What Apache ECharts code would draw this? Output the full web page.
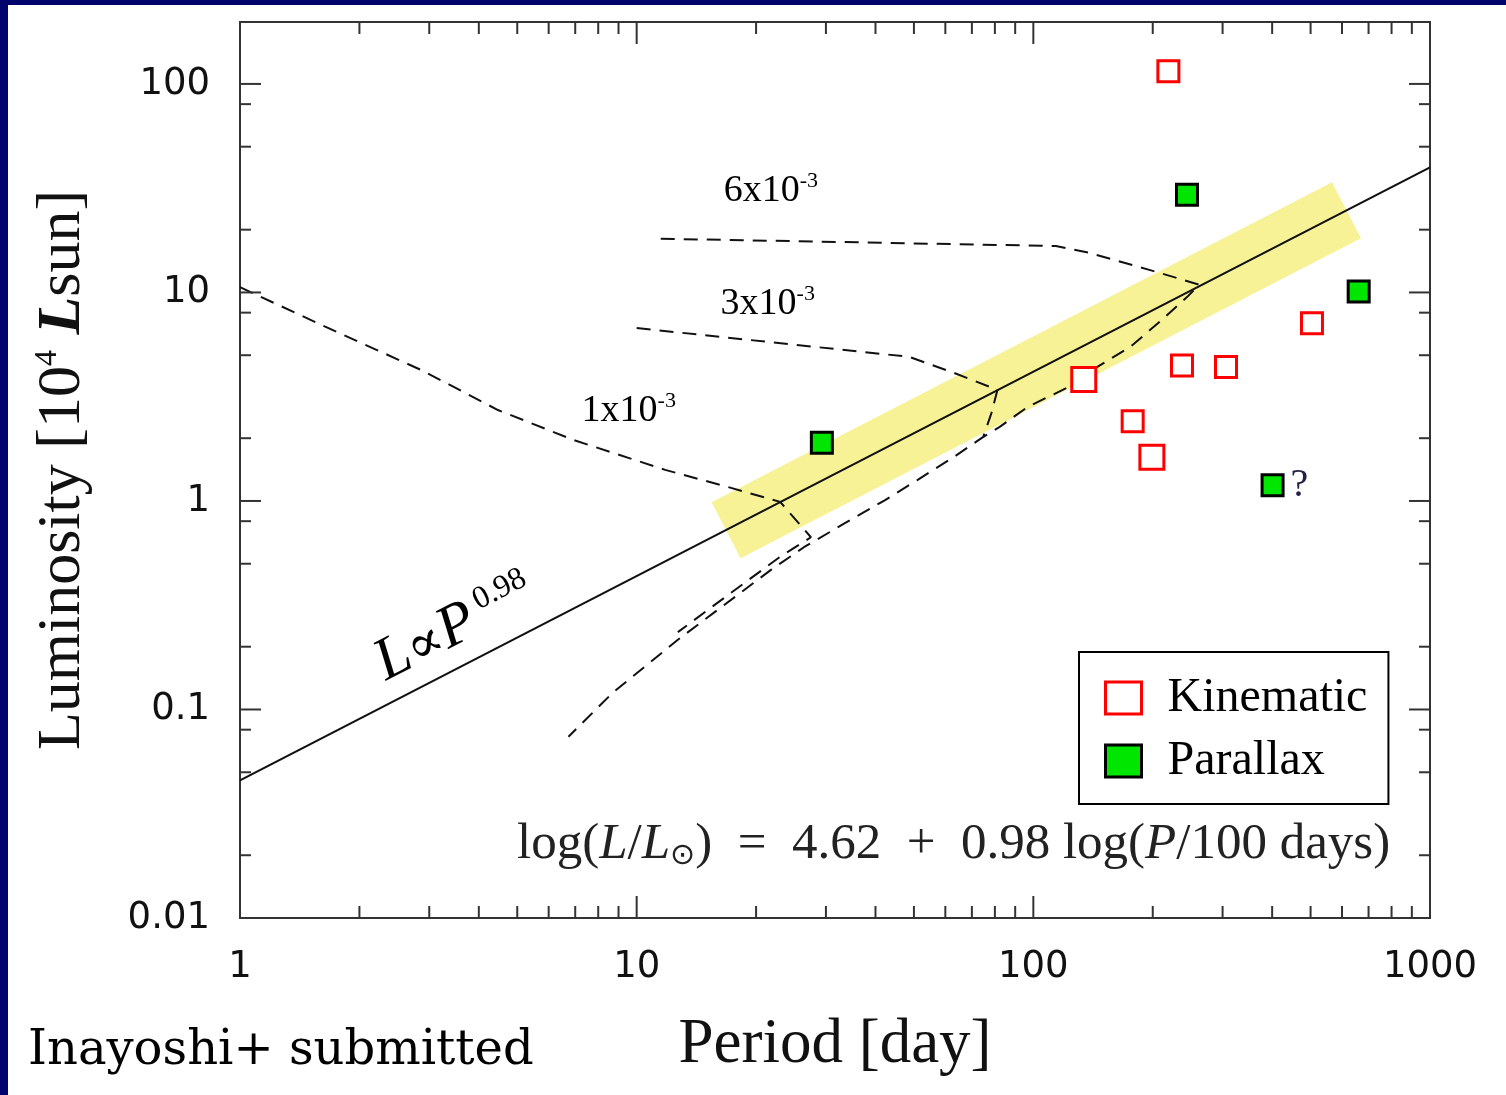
<!DOCTYPE html>
<html>
<head>
<meta charset="utf-8">
<script src="https://cdn.jsdelivr.net/npm/echarts@6/dist/echarts.min.js"></script>
<style>
html,body{margin:0;padding:0;background:#ffffff;}
#c{width:1506px;height:1095px;}
</style>
</head>
<body>
<div id="c"></div>
<script>
// ---------------- data (period in days, luminosity in 10^4 Lsun) ----------------
const periodTicks = ['1', '10', '100', '1000'];
const lumTicks = ['0.01', '0.1', '1', '10', '100'];

const kinematicPeriod = [219, 134, 237, 306, 504, 178, 199];
const kinematicLum    = [115, 3.82, 4.46, 4.39, 7.12, 2.41, 1.62];

const parallaxPeriod = [29.3, 244, 661, 401];
const parallaxLum    = [1.90, 29.4, 10.1, 1.19];
const parallaxNote   = ['', '', '', '?'];

// fitted relation L ∝ P^0.98 (drawn across the full axis)
const fitPeriod = [1, 1000];
const fitLum    = [0.0457, 39.8];

// shaded band around the fit
const bandPeriod = [16.8, 616];
const bandLum    = [0.724, 24.8];

// evolutionary tracks (accretion rates 1e-3, 3e-3, 6e-3)
const track1Period = [1.0, 1.64, 2.86, 4.47, 6.94, 11.8, 16.9, 23.0, 27.5, 23.0, 17.2, 12.7];
const track1Lum    = [10.6, 6.85, 4.25, 2.73, 1.96, 1.41, 1.17, 0.99, 0.67, 0.54, 0.36, 0.235];

const track3Period = [10.0, 48.7, 63.2, 81.2, 78.4, 74.8, 63.2, 51.0, 42.3, 33.4, 26.4, 21.8, 12.7, 8.69, 6.73];
const track3Lum    = [6.75, 4.91, 4.11, 3.41, 2.64, 2.03, 1.63, 1.26, 1.01, 0.78, 0.60, 0.467, 0.216, 0.120, 0.074];

const track6Period = [11.5, 114, 138, 197, 262, 244, 211, 176, 145, 122, 96.9, 82.1, 74.8];
const track6Lum    = [18.1, 16.7, 15.5, 12.8, 10.9, 9.5, 7.4, 5.5, 4.4, 3.5, 2.83, 2.26, 2.03];

// text annotations anchored in data space
const annotationText   = ['{n|6x10}{s|-3}', '{n|3x10}{s|-3}', '{n|1x10}{s|-3}', '{i|L}{n2|∝}{i|P}{s2| 0.98}'];
const annotationPeriod = [21.8, 21.4, 9.55, 3.48];
const annotationLum    = [31.0, 8.9, 2.73, 0.246];

// ---------------- helpers / styles ----------------
const lg = Math.log10;
const toXY = (P, L) => P.map((p, i) => [lg(p), lg(L[i])]);
const largeKinematic = [1, 6];
const AX = '#333333';

// tick marks on all four sides: kind 0 = x minor, 1 = y minor, 2 = x major, 3 = y major
const tickData = [];
for (let d = 0; d < 3; d++) for (let m = 2; m <= 9; m++) tickData.push([0, lg(m * Math.pow(10, d))]);
for (let d = -2; d <= 1; d++) for (const m of [2, 5, 8]) tickData.push([1, lg(m * Math.pow(10, d))]);
for (let d = 0; d <= 3; d++) tickData.push([2, d]);
for (let d = -2; d <= 2; d++) tickData.push([3, d]);

const trackStyle = {color: '#111', width: 2, type: [14, 9]};

function lineSeries(name, data, lineStyle, z) {
  return {name, type: 'line', data, symbol: 'none', showSymbol: false, silent: true,
          lineStyle, z, xAxisIndex: 0, yAxisIndex: 0};
}
const hiddenLine = {show: false, onZero: false};

const chart = echarts.init(document.getElementById('c'), null, {renderer: 'canvas'});

const option = {
  animation: false,
  backgroundColor: '#ffffff',
  grid: {left: 240, top: 22, width: 1190, height: 896, show: true,
         borderColor: AX, borderWidth: 2, backgroundColor: 'rgba(0,0,0,0)'},
  xAxis: {type: 'value', min: 0, max: 3, interval: 1, position: 'bottom',
     axisLine: hiddenLine, splitLine: {show: false}, axisTick: {show: false},
     axisLabel: {margin: 31, fontFamily: 'DejaVu Sans', fontSize: 37, color: '#111',
                 formatter: v => periodTicks[Math.round(v)]},
     name: 'Period [day]', nameLocation: 'middle', nameGap: 96,
     nameTextStyle: {fontFamily: 'Liberation Serif', fontSize: 63, color: '#111'}},
  yAxis: {type: 'value', min: -2, max: 2.297, interval: 1, position: 'left',
     axisLine: hiddenLine, splitLine: {show: false}, axisTick: {show: false},
     axisLabel: {margin: 30, fontFamily: 'DejaVu Sans', fontSize: 37, color: '#111',
                 showMaxLabel: false,
                 formatter: v => Math.abs(v - Math.round(v)) < 1e-6 ? lumTicks[Math.round(v) + 2] : ''},
     name: 'Luminosity [10{sup|4} {bi|L}sun]', nameLocation: 'middle', nameGap: 146, nameRotate: 90,
     nameTextStyle: {fontFamily: 'Liberation Serif', fontSize: 62, color: '#111',
       rich: {
         sup: {fontFamily: 'Liberation Serif', fontSize: 32, lineHeight: 32, verticalAlign: 'top', color: '#111'},
         bi: {fontFamily: 'Liberation Serif', fontSize: 62, fontWeight: 'bold', fontStyle: 'italic', color: '#111'}
       }}},
  legend: {
    orient: 'vertical', left: 1079, top: 652,
    padding: [22, 21, 19, 25], itemGap: 15, itemWidth: 36, itemHeight: 32,
    backgroundColor: '#ffffff', borderColor: '#000', borderWidth: 2, borderRadius: 0,
    textStyle: {fontFamily: 'Liberation Serif', fontSize: 48, lineHeight: 47, color: '#000',
                padding: [0, 0, 0, 21]},
    data: [
      {name: 'Kinematic', icon: 'rect', itemStyle: {color: '#ffffff', borderColor: '#ff0000', borderWidth: 3}},
      {name: 'Parallax', icon: 'rect', itemStyle: {color: '#00e600', borderColor: '#000000', borderWidth: 3}}
    ]
  },
  graphic: [
    {type: 'rect', left: 0, top: 0, z: 100, shape: {width: 1506, height: 5}, style: {fill: '#03036e'}},
    {type: 'rect', left: 0, top: 0, z: 100, shape: {width: 8, height: 1095}, style: {fill: '#03036e'}},
    {type: 'text', x: 28, y: 1052, z: 100,
     style: {text: 'Inayoshi+ submitted', fontFamily: 'DejaVu Serif', fontSize: 48, fill: '#000',
             align: 'left', verticalAlign: 'middle'}},
    {type: 'text', x: 517, y: 845, z: 100,
     style: {text: 'log({i|L}/{i|L}{sub|⊙})  =  4.62  +  0.98 log({i|P}/100 days)',
             fontFamily: 'Liberation Serif', fontSize: 51, fill: '#222',
             align: 'left', verticalAlign: 'middle',
             rich: {
               i: {fontFamily: 'Liberation Serif', fontStyle: 'italic', fontSize: 51, fill: '#222'},
               sub: {fontFamily: 'DejaVu Sans', fontSize: 30, fill: '#222', padding: [22, 0, 0, 0]}
             }}}
  ],
  series: [
    lineSeries('band', toXY(bandPeriod, bandLum), {color: '#f7f296', width: 63, cap: 'butt'}, 1),
    lineSeries('fit', toXY(fitPeriod, fitLum), {color: '#111', width: 2.2}, 3),
    lineSeries('track 1e-3', toXY(track1Period, track1Lum), trackStyle, 2),
    lineSeries('track 3e-3', toXY(track3Period, track3Lum), trackStyle, 2),
    lineSeries('track 6e-3', toXY(track6Period, track6Lum), trackStyle, 2),
    {
      name: 'ticks', type: 'custom', silent: true, z: 4,
      data: tickData,
      renderItem: (params, api) => {
        const cs = params.coordSys;
        const kind = api.value(0), v = api.value(1);
        const st = {stroke: AX, lineWidth: 2};
        if (kind === 0 || kind === 2) {
          const len = kind === 2 ? 22 : 12;
          const x = api.coord([v, 0])[0];
          const yb = cs.y + cs.height, yt = cs.y;
          return {type: 'group', children: [
            {type: 'line', shape: {x1: x, y1: yb, x2: x, y2: yb - len}, style: st},
            {type: 'line', shape: {x1: x, y1: yt, x2: x, y2: yt + len}, style: st}
          ]};
        }
        const len = kind === 3 ? 21 : 11;
        const y = api.coord([0, v])[1];
        const xl = cs.x, xr = cs.x + cs.width;
        return {type: 'group', children: [
          {type: 'line', shape: {x1: xl, y1: y, x2: xl + len, y2: y}, style: st},
          {type: 'line', shape: {x1: xr, y1: y, x2: xr - len, y2: y}, style: st}
        ]};
      }
    },
    {
      name: 'Kinematic', type: 'scatter', symbol: 'rect', z: 6,
      data: toXY(kinematicPeriod, kinematicLum),
      symbolSize: (val, p) => largeKinematic.includes(p.dataIndex) ? 24 : 21,
      itemStyle: {color: '#ffffff', borderColor: '#ff0000', borderWidth: 3, opacity: 1}
    },
    {
      name: 'Parallax', type: 'scatter', symbol: 'rect', symbolSize: 21, z: 6,
      data: toXY(parallaxPeriod, parallaxLum).map((v, i) => ({value: v, note: parallaxNote[i]})),
      itemStyle: {color: '#00e600', borderColor: '#000000', borderWidth: 3, opacity: 1},
      label: {show: true, position: 'right', distance: 6, fontFamily: 'Liberation Serif', fontSize: 40,
              color: '#222244', textBorderWidth: 0, formatter: p => p.data.note}
    },
    {
      name: 'annotations', type: 'scatter', symbolSize: 1, silent: true, z: 7,
      itemStyle: {color: 'rgba(0,0,0,0)'},
      data: annotationText.map((t, i) => ({
        value: [lg(annotationPeriod[i]), lg(annotationLum[i])], name: t,
        label: i === 3 ? {rotate: 27} : {}
      })),
      label: {
        show: true, position: 'inside', formatter: '{b}', color: '#000',
        textBorderWidth: 0, textBorderColor: 'transparent', opacity: 1,
        rich: {
          n: {fontFamily: 'Liberation Serif', fontSize: 38, lineHeight: 40, verticalAlign: 'bottom', color: '#000', textBorderWidth: 0},
          s: {fontFamily: 'Liberation Serif', fontSize: 22, lineHeight: 22, verticalAlign: 'top', color: '#000', textBorderWidth: 0},
          i: {fontFamily: 'Liberation Serif', fontStyle: 'italic', fontSize: 60, lineHeight: 60, verticalAlign: 'bottom', color: '#000', textBorderWidth: 0},
          n2: {fontFamily: 'DejaVu Serif', fontSize: 54, lineHeight: 60, verticalAlign: 'bottom', color: '#000', textBorderWidth: 0},
          s2: {fontFamily: 'Liberation Serif', fontSize: 32, lineHeight: 32, verticalAlign: 'top', color: '#000', textBorderWidth: 0}
        }
      }
    }
  ]
};
chart.setOption(option);
</script>
</body>
</html>
